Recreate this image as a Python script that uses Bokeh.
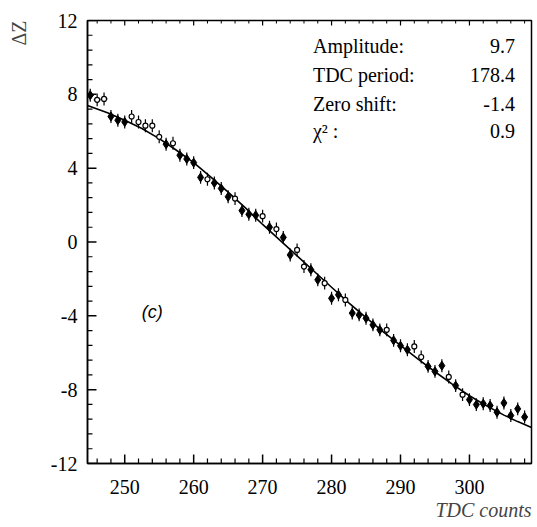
import numpy as np
from bokeh.plotting import figure
from bokeh.models import Range1d, Label, FixedTicker, Title
from bokeh.embed import file_html
from bokeh.resources import INLINE

# ---- data ----
tdc = [245, 246, 247, 248, 249, 250, 251, 252, 253, 254, 255, 256, 257, 258, 259,
       260, 261, 262, 263, 264, 265, 266, 267, 268, 269, 270, 271, 272, 273, 274,
       275, 276, 277, 278, 279, 280, 281, 282, 283, 284, 285, 286, 287, 288, 289,
       290, 291, 292, 293, 294, 295, 296, 297, 298, 299, 300, 301, 302, 303, 304,
       305, 306, 307, 308]
dz = [7.95, 7.70, 7.75, 6.80, 6.60, 6.50, 6.80, 6.50, 6.30, 6.30, 5.70, 5.30, 5.35, 4.70, 4.50,
      4.30, 3.50, 3.40, 3.20, 2.90, 2.45, 2.35, 1.70, 1.50, 1.45, 1.40, 0.80, 0.70, 0.25, -0.70,
      -0.43, -1.33, -1.50, -2.05, -2.23, -3.05, -2.86, -3.14, -3.85, -3.95, -4.13, -4.49, -4.76, -4.76, -5.33,
      -5.62, -5.84, -5.66, -6.23, -6.74, -7.01, -6.70, -7.31, -7.78, -8.27, -8.54, -8.81, -8.76, -8.86, -9.22,
      -8.72, -9.40, -9.04, -9.48]
kind = ["f", "o", "o", "f", "f", "f", "o", "o", "o", "o", "o", "f", "o", "f", "f",
        "f", "f", "o", "f", "f", "f", "o", "f", "f", "f", "o", "f", "o", "f", "f",
        "o", "o", "f", "f", "o", "f", "f", "o", "f", "f", "f", "f", "f", "o", "f",
        "f", "f", "o", "o", "f", "f", "f", "o", "f", "o", "f", "f", "f", "f", "f",
        "f", "f", "f", "f"]
dz_err = [0.35] * len(tdc)
tdc_err = [0.5, 0.5, 0.5] + [0.0] * (len(tdc) - 3)

# fitted curve
fit_x = [244.6, 247.5, 250, 252.5, 255, 257.5, 260, 262.5, 265, 267.5, 270, 272.5, 275,
         277.5, 280, 282.5, 285, 287.5, 290, 292.5, 295, 297.5, 300, 302.5, 305, 307, 309]
fit_y = [7.4, 7.0, 6.6, 6.15, 5.6, 4.97, 4.3, 3.52, 2.7, 1.85, 0.95, 0.1, -0.75,
         -1.6, -2.45, -3.3, -4.1, -4.87, -5.6, -6.33, -7.03, -7.7, -8.33, -8.88, -9.38, -9.73, -10.05]

x_ticks = [250, 260, 270, 280, 290, 300]
x_minor = [246, 248, 252, 254, 256, 258, 262, 264, 266, 268, 272, 274, 276, 278,
           282, 284, 286, 288, 292, 294, 296, 298, 302, 304, 306, 308]
y_ticks = [-12, -8, -4, 0, 4, 8, 12]
y_minor = [-11.2, -10.4, -9.6, -8.8, -7.2, -6.4, -5.6, -4.8, -3.2, -2.4, -1.6, -0.8,
           0.8, 1.6, 2.4, 3.2, 4.8, 5.6, 6.4, 7.2, 8.8, 9.6, 10.4, 11.2]
y_tick_labels = ["-12", "-8", "-4", "0", "4", "8", "12"]

fit_names = ["Amplitude:", "TDC period:", "Zero shift:", "\u03c7\u00b2 :"]
fit_values = ["9.7", "178.4", "-1.4", "0.9"]

X0, X1 = 244.6, 309.0
Y0, Y1 = -12.0, 12.0

SERIF = "Liberation Serif"
FW, FH = 445, 443            # frame size in px
PXX = FW / (X1 - X0)         # px per x unit
PXY = FH / (Y1 - Y0)         # px per y unit

p = figure(width=535, height=523, output_backend="svg", toolbar_location=None,
           x_range=Range1d(X0, X1), y_range=Range1d(Y0, Y1),
           min_border_left=86, min_border_right=4, min_border_top=20, min_border_bottom=60)
p.xgrid.visible = False
p.ygrid.visible = False
p.outline_line_color = "black"
p.outline_line_width = 1.5
p.background_fill_color = "white"
p.border_fill_color = "white"

for ax in (p.xaxis[0], p.yaxis[0]):
    ax.axis_line_color = "black"
    ax.axis_line_width = 1.5
    ax.major_tick_in = 0
    ax.major_tick_out = 0
    ax.minor_tick_in = 0
    ax.minor_tick_out = 0
    ax.major_label_text_font = SERIF
    ax.major_label_text_font_size = "20px"
    ax.major_label_text_color = "black"

p.xaxis[0].ticker = FixedTicker(ticks=x_ticks, minor_ticks=x_minor)
p.yaxis[0].ticker = FixedTicker(ticks=y_ticks, minor_ticks=y_minor)
p.yaxis[0].major_label_overrides = {t: s for t, s in zip(y_ticks, y_tick_labels)}
p.xaxis.major_label_standoff = 16
p.yaxis.major_label_standoff = 10
# invisible spacer label to push the ΔZ title further out
p.yaxis.axis_label = " "
p.yaxis.axis_label_text_font_size = "2px"
p.yaxis.axis_label_standoff = 8

# inward tick marks drawn from the tick lists
def vticks(xs, length_px, y_edge, sign):
    xs = np.array(xs, dtype=float)
    return dict(x0=xs, y0=np.full_like(xs, y_edge), x1=xs,
                y1=np.full_like(xs, y_edge + sign * length_px / PXY))

def hticks(ys, length_px, x_edge, sign):
    ys = np.array(ys, dtype=float)
    return dict(x0=np.full_like(ys, x_edge), y0=ys,
                x1=np.full_like(ys, x_edge + sign * length_px / PXX), y1=ys)

for kw, lw in ((vticks(x_ticks, 9, Y0, 1), 1.5), (vticks(x_minor, 5, Y0, 1), 1.2),
               (vticks(x_ticks, 5, Y1, -1), 1.2), (vticks(x_minor, 3, Y1, -1), 1.0),
               (hticks(y_ticks, 9, X0, 1), 1.5), (hticks(y_minor, 5, X0, 1), 1.2)):
    p.segment(line_color="black", line_width=lw, **kw)

# fit curve
p.line(fit_x, fit_y, line_color="black", line_width=1.6)

tdc_a = np.array(tdc, dtype=float)
dz_a = np.array(dz)
err_a = np.array(dz_err)
xerr_a = np.array(tdc_err)

# error bars
p.segment(tdc_a, dz_a - err_a, tdc_a, dz_a + err_a, line_color="black", line_width=1.2)
mask = xerr_a > 0
p.segment(tdc_a[mask] - xerr_a[mask], dz_a[mask], tdc_a[mask] + xerr_a[mask], dz_a[mask],
          line_color="black", line_width=1.2)

kind_a = np.array(kind)
f = kind_a == "f"
o = kind_a == "o"
p.scatter(tdc_a[f], dz_a[f], marker="diamond", size=9, fill_color="black", line_color="black")
p.scatter(tdc_a[o], dz_a[o], marker="circle", size=5, fill_color="white", line_color="black",
          line_width=1.2)

# fit-parameter box text
rows_y = [10.6, 9.05, 7.5, 6.0]
for name, val, yy in zip(fit_names, fit_values, rows_y):
    p.add_layout(Label(x=277.3, y=yy, text=name, text_font=SERIF, text_font_size="20px",
                       text_baseline="middle", text_align="left", text_color="black"))
    p.add_layout(Label(x=306.6, y=yy, text=val, text_font=SERIF, text_font_size="20px",
                       text_baseline="middle", text_align="right", text_color="black"))

p.add_layout(Label(x=254.0, y=-3.8, text="(c)", text_font="Liberation Sans",
                   text_font_style="italic", text_font_size="18px",
                   text_baseline="middle", text_align="center", text_color="black"))

# axis titles as side titles
p.add_layout(Title(text="TDC counts", align="right", text_font=SERIF,
                   text_font_style="italic", text_font_size="20px", standoff=0, offset=0),
             "below")
p.add_layout(Title(text="\u0394Z", align="right", text_font=SERIF, text_font_style="normal",
                   text_font_size="20px", offset=0), "left")

open("out.html", "w").write(file_html(p, INLINE))
